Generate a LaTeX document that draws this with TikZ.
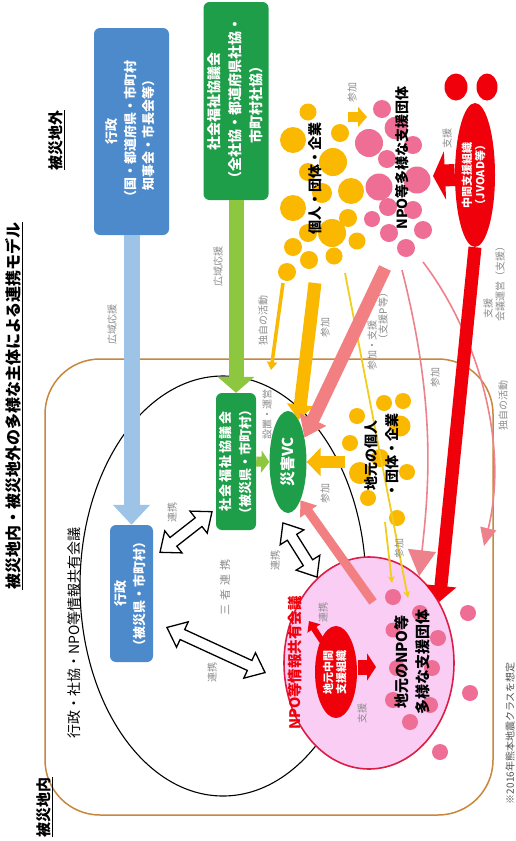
\documentclass[tikz,border=0pt]{standalone}
\usepackage{fontspec}
\usepackage{graphicx}
\setmainfont{Noto Sans CJK JP}
\usetikzlibrary{arrows.meta,shapes.geometric}
\definecolor{govblue}{RGB}{76,138,204}
\definecolor{lightblue}{RGB}{157,195,230}
\definecolor{darkgreen}{RGB}{30,158,72}
\definecolor{lightgreen}{RGB}{141,198,63}
\definecolor{gold}{RGB}{250,184,0}
\definecolor{thinyellow}{RGB}{240,205,30}
\definecolor{dotpink}{RGB}{238,110,150}
\definecolor{salmon}{RGB}{242,128,130}
\definecolor{thinpink}{RGB}{238,130,140}
\definecolor{vred}{RGB}{240,0,10}
\definecolor{crimson}{RGB}{220,30,70}
\definecolor{lilac}{RGB}{250,205,245}
\definecolor{areabrown}{RGB}{200,135,60}
\definecolor{lblgray}{RGB}{140,140,140}
\definecolor{footgray}{RGB}{80,80,80}
\newcommand\vt[1]{\rotatebox{90}{\begin{tabular}{@{}c@{}}#1\end{tabular}}}
\newcommand\hollowarr[4]{\begin{scope}[shift={(#1,#2)},rotate=#3]
\draw[line width=1.3pt,fill=white,line join=miter] (-#4,0) -- (-#4+17,14) -- (-#4+17,5.5) -- (#4-17,5.5) -- (#4-17,14) -- (#4,0) -- (#4-17,-14) -- (#4-17,-5.5) -- (-#4+17,-5.5) -- (-#4+17,-14) -- cycle;
\end{scope}}
\begin{document}
\begin{tikzpicture}[x=1pt,y=-1pt,
  box/.style={rectangle, rounded corners=6pt, inner sep=0pt, text=white, font=\bfseries\fontsize{13}{18.5}\selectfont},
  lbl/.style={inner sep=0pt, text=lblgray, font=\fontsize{10}{12}\selectfont, rotate=90},
  big/.style={inner sep=0pt, font=\bfseries\fontsize{14}{21}\selectfont, rotate=90, align=center},
  oval/.style={ellipse, inner sep=0pt},
  ycirc/.style={fill=gold},
  pcirc/.style={fill=dotpink}]
\useasboundingbox (0,0) rectangle (516,841);
\fill[white] (0,0) rectangle (516,841);

% regions
\draw[areabrown, line width=1.5pt, rounded corners=55pt] (45,359) rectangle (493,815);
\node[oval, draw=black, line width=1.1pt, minimum width=286pt, minimum height=420pt] (meet) at (223,586) {};

% outside boxes
\node[box, fill=govblue, minimum width=75pt, minimum height=207pt] (gov) at (131.5,131.5)
  {\vt{行政\\（国・都道府県・市町村\\知事会・市長会等）}};
\node[box, fill=darkgreen, minimum width=65pt, minimum height=198pt, font=\bfseries\fontsize{14}{21}\selectfont] (sk) at (236,101)
  {\vt{社会福祉協議会\\（全社協・都道府県社協・\\市町村社協）}};

% yellow cluster (outside)
\foreach \cx/\cy/\r in {308/112/8.5, 293/140/13, 340/133/9, 333/162/14, 308/172/9, 351/191/13, 293/208/13, 322/193/10, 348/218/9, 332/233/14, 308/233/9, 293/247/9, 357/241/8.5, 334/256/8.5, 309/260/9, 287/272/9}
  \fill[ycirc] (\cx,\cy) circle (\r pt);
% pink cluster (outside)
\foreach \cx/\cy/\r in {382/109/9, 396/128/11.5, 369/143/14, 413/145/9, 387/159/9, 417/180/13.5, 379/187/13.5, 388/207/9, 372/219/8, 413/210/9, 423/230/9, 389/233/9, 406/248/9}
  \fill[pcirc] (\cx,\cy) circle (\r pt);

% JVOAD
\fill[vred] (456,87) ellipse [x radius=11.5pt, y radius=13.5pt];
\fill[vred] (487,87) ellipse [x radius=10.5pt, y radius=13.5pt];
\node[oval, fill=vred, minimum width=40pt, minimum height=144pt, text=white, font=\bfseries\fontsize{11}{12.5}\selectfont] (jv) at (475,175)
  {\vt{中間支援組織\\（JVOAD等）}};

% wide-area arrows
\node[box, fill=govblue, minimum width=43pt, minimum height=137pt] (lgov) at (131.5,593.5)
  {\vt{行政\\（被災県・市町村）}};
\node[box, fill=darkgreen, minimum width=40pt, minimum height=137pt, font=\bfseries\fontsize{13}{20}\selectfont] (lsk) at (236,461.5)
  {\vt{社\kern1.5pt 会\kern1.5pt 福\kern1.5pt 祉\kern1.5pt 協\kern1.5pt 議\kern1.5pt 会\\（被災県・市町村）}};
\draw[lightblue, line width=16pt, -{Triangle[length=20pt,width=36pt]}] (gov.south) -- (lgov.north);
\draw[lightgreen, line width=15pt, -{Triangle[length=16pt,width=36pt]}] (sk.south) -- (lsk.north);

% local yellow cluster
\foreach \cx/\cy/\r in {384/403/8, 403/401/8, 357/416/8, 400/426/10.5, 350/443/8, 380/458/9, 360/473/11, 407/472/8, 368/498/8, 397/518/8}
  \fill[ycirc] (\cx,\cy) circle (\r pt);

% VC
\node[oval, fill=darkgreen, minimum width=37pt, minimum height=102pt, text=white, font=\bfseries\fontsize{15}{17}\selectfont] (vc) at (288,462) {\rotatebox{90}{災害VC}};

% local NPO ellipse
\node[oval, fill=lilac, draw=crimson, line width=1.6pt, minimum width=170pt, minimum height=212pt] (npo) at (369,663) {};
\foreach \cx/\cy/\r in {393/597/8, 420/613/8, 393/630/7.5, 438/638/8, 397/668/8, 432/668/8, 393/700/8, 430/705/8, 410/722/8, 440/752/8, 468/613/8, 470/693/8}
  \fill[pcirc] (\cx,\cy) circle (\r pt);
\node[oval, fill=vred, minimum width=42pt, minimum height=92pt, text=white, font=\bfseries\fontsize{11}{12}\selectfont] (mid) at (336,672)
  {\vt{地元中間\\支援組織}};

% connector coordinates
\coordinate (yelA) at (315,283);
\coordinate (yelB) at (283,283);
\coordinate (yelBend) at (271,370);
\coordinate (yelC) at (345,273);
\coordinate (yelCend) at (408,598);
\coordinate (locY) at (385,522);
\coordinate (locYend) at (392,583);
\coordinate (locYvc) at (345,462);
\coordinate (pkA) at (385,268);
\coordinate (pkB) at (402,270);
\coordinate (pkC) at (423,262);
\coordinate (pkCend) at (484,546);
\coordinate (pkL) at (373,602);
\coordinate (topY1) at (348,117);
\coordinate (topY2) at (367,117);
\coordinate (redtip) at (433,176);
\coordinate (redmidA) at (322,641);
\coordinate (redmidB) at (309,621);
\coordinate (redR1) at (358,667);
\coordinate (redR2) at (376,667);

% connectors
\draw[lightgreen, line width=10pt, -{Triangle[length=8pt,width=22pt]}] (lsk.east) -- (vc.west);
\draw[gold, line width=12pt, -{Triangle[length=14pt,width=28pt]}] (locYvc) -- (vc.east);
\draw[gold, line width=13pt, -{Triangle[length=15pt,width=26pt]}] (yelA) -- (vc.76);
\draw[gold, line width=3.5pt, -{Triangle[length=8pt,width=10pt]}] (yelB) -- (yelBend);
\draw[gold, line width=10pt, -{Triangle[length=9pt,width=20pt]}] (topY1) -- (topY2);
\draw[thinyellow, line width=1.8pt, -{Stealth[length=7pt,width=7pt]}] (yelC) -- (yelCend);
\draw[thinyellow, line width=1.8pt, -{Stealth[length=7pt,width=7pt]}] (locY) -- (locYend);
\draw[thinpink, line width=1.6pt, -{Triangle[length=26pt,width=28pt]}] (pkB) .. controls (435,400) and (430,480) .. (npo.60);
\draw[thinpink, line width=1.6pt, -{Triangle[length=18pt,width=16pt]}] (pkC) .. controls (475,330) and (510,440) .. (pkCend);
\draw[salmon, line width=13pt, -{Triangle[length=20pt,width=28pt]}] (pkA) -- (vc.56);
\draw[salmon, line width=9pt, -{Triangle[length=14pt,width=20pt]}] (pkL) -- (vc.-72);
\draw[vred, line width=13pt, -{Triangle[length=16pt,width=30pt]}] (jv.south) -- (npo.41);
\draw[vred, line width=22pt, -{Triangle[length=12pt,width=48pt]}] (jv.west) -- (redtip);
\draw[vred, line width=6pt, -{Triangle[length=9pt,width=15pt]}] (redmidA) -- (redmidB);
\draw[vred, line width=15pt, -{Triangle[length=9pt,width=27pt]}] (redR1) -- (redR2);

% hollow double arrows
\hollowarr{186}{532}{38}{33}
\hollowarr{216}{650}{-24.7}{54}
\hollowarr{300}{550}{-57.8}{32}

% texts
\node[rotate=90, inner sep=0pt, font=\bfseries\fontsize{16}{18}\selectfont] (title) at (14,406) {\underline{被災地内・被災地外の多様な主体による連携モデル}};
\node[rotate=90, inner sep=0pt, font=\bfseries\fontsize{15}{17}\selectfont] (outside) at (57,140) {\underline{被災地外}};
\node[rotate=90, inner sep=0pt, font=\bfseries\fontsize{15}{17}\selectfont] (inside) at (45,807) {\underline{被災地内}};
\node[rotate=90, inner sep=0pt, font=\fontsize{14}{16}\selectfont] (meettxt) at (74,633) {行政・社協・NPO等情報共有会議};
\node[big] (ind) at (315,178) {個人・団体・企業};
\node[big] (npoout) at (402,158) {NPO等多様な支援団体};
\node[big] (locind) at (382,455) {地元の個人\\・団体・企業};
\node[big, font=\bfseries\fontsize{15}{21}\selectfont] (locnpo) at (412,662) {地元のNPO等\\多様な支援団体};
\node[big, text=vred, font=\bfseries\fontsize{14.5}{16}\selectfont] (npokaigi) at (295,663) {NPO等情報共有会議};
\node[rotate=90, inner sep=0pt, text=footgray, font=\fontsize{10}{12}\selectfont] (foot) at (510,733) {※2016年熊本地震クラスを想定};

% gray labels
\node[lbl] (l1) at (112,324) {広域応援};
\node[lbl] (l2) at (218,266) {広域応援};
\node[lbl] (l3) at (263,320) {独自の活動};
\node[lbl] (l4) at (325,327) {参加};
\node[lbl] (l5) at (372,345) {参加・支援};
\node[lbl] (l6) at (383,316) {（支援P等）};
\node[lbl] (l7) at (435,377) {参加};
\node[lbl] (l8) at (503,405) {独自の活動};
\node[lbl] (l9) at (488,308) {支援};
\node[lbl] (l10) at (500,281) {会議運営（支援）};
\node[lbl] (l11) at (447,138) {支援};
\node[lbl] (l12) at (352,92) {参加};
\node[lbl] (l13) at (267,414) {設置・運営};
\node[lbl] (l14) at (325,493) {参加};
\node[lbl] (l15) at (172,512) {連携};
\node[lbl] (l16) at (212,672) {連携};
\node[lbl] (l17) at (275,560) {連携};
\node[lbl, font=\fontsize{11}{13}\selectfont] (l18) at (225,587) {三\kern4pt 者\kern4pt 連\kern4pt 携};
\node[lbl] (l19) at (323,612) {連携};
\node[lbl] (l20) at (362,713) {支援};
\node[lbl] (l21) at (399,548) {参加};
\end{tikzpicture}
\end{document}
